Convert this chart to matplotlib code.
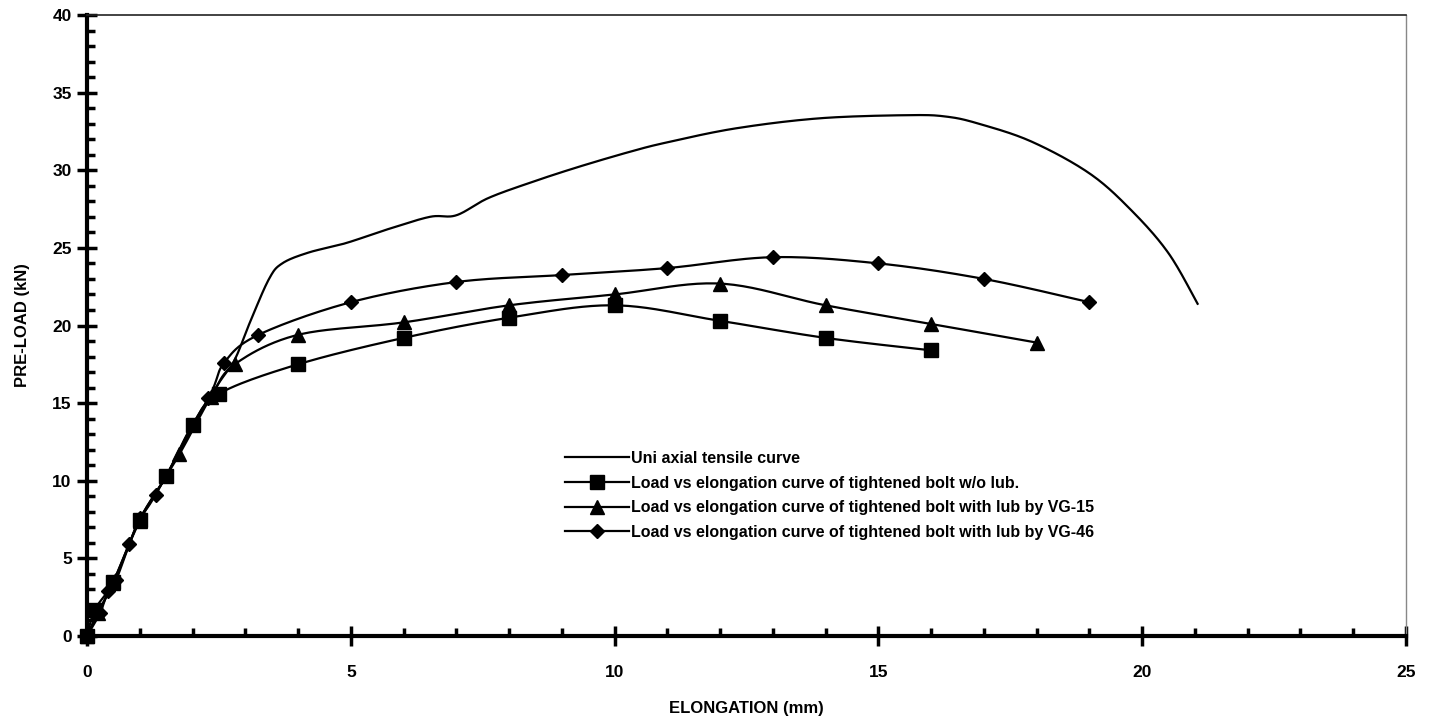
import numpy as np
import matplotlib
matplotlib.use("Agg")
import matplotlib.pyplot as plt
from matplotlib.ticker import MultipleLocator

plt.rcParams['font.family'] = ['Liberation Sans', 'DejaVu Sans']

# Uniaxial tensile test curve
uni_x = [0, 0.5, 1.0, 1.5, 2.0, 2.5, 2.8, 3.1, 3.45, 3.7, 4.2, 4.9, 5.7, 6.5,
         7.0, 7.6, 8.4, 9.3, 10.3, 11.0, 12.3, 13.9, 15.6, 16.3, 16.9, 17.9,
         19.0, 19.8, 20.5, 21.05]
uni_y = [0, 3.5, 7.5, 10.3, 13.6, 16.3, 17.8, 20.3, 23.0, 24.0, 24.7, 25.3,
         26.2, 27.0, 27.1, 28.2, 29.2, 30.2, 31.2, 31.8, 32.7, 33.35, 33.55,
         33.45, 33.0, 31.85, 29.8, 27.4, 24.65, 21.4]

# Tightened bolt without lubrication
dry_x = [0, 0.15, 0.5, 1.0, 1.5, 2.0, 2.5, 4, 6, 8, 10, 12, 14, 16]
dry_y = [0, 1.7, 3.5, 7.5, 10.3, 13.6, 15.6, 17.5, 19.2, 20.5, 21.3, 20.3,
         19.2, 18.4]

# Tightened bolt lubricated with VG-15
vg15_x = [0, 0.2, 0.5, 1.0, 1.75, 2.35, 2.8, 4, 6, 8, 10, 12, 14, 16, 18]
vg15_y = [0, 1.5, 3.4, 7.4, 11.7, 15.4, 17.5, 19.4, 20.2, 21.3, 22.0, 22.7,
          21.3, 20.1, 18.9]

# Tightened bolt lubricated with VG-46
vg46_x = [0, 0.25, 0.4, 0.55, 0.8, 1.0, 1.3, 2.3, 2.6, 3.25, 5, 7, 9, 11,
          13, 15, 17, 19]
vg46_y = [0, 1.5, 2.9, 3.6, 5.9, 7.6, 9.1, 15.3, 17.6, 19.4, 21.5, 22.8,
          23.25, 23.7, 24.4, 24.0, 23.0, 21.5]

labels = [
    "Uni axial tensile curve",
    "Load vs elongation curve of tightened bolt w/o lub.",
    "Load vs elongation curve of tightened bolt with lub by VG-15",
    "Load vs elongation curve of tightened bolt with lub by VG-46",
]


def smooth(x, y, n=24):
    """Spreadsheet-style smoothed line: cubic Bezier segments with 1/6 tangents."""
    p = np.column_stack([x, y]).astype(float)
    m = len(p)
    out = [p[0]]
    t = np.linspace(0, 1, n)[1:, None]
    for i in range(m - 1):
        p0 = p[i - 1] if i > 0 else p[i]
        p1, p2 = p[i], p[i + 1]
        p3 = p[i + 2] if i + 2 < m else p[i + 1]
        c1 = p1 + (p2 - p0) / 6.0
        c2 = p2 - (p3 - p1) / 6.0
        seg = ((1 - t) ** 3) * p1 + 3 * ((1 - t) ** 2) * t * c1 \
            + 3 * (1 - t) * t ** 2 * c2 + t ** 3 * p2
        out.extend(seg)
    out = np.array(out)
    return out[:, 0], out[:, 1]


fig = plt.figure(figsize=(14.30, 7.22), dpi=100)
ax = fig.add_axes([87 / 1430, 1 - 636 / 722, (1406 - 87) / 1430, (636 - 15) / 722])

lw = 1.6
sx, sy = smooth(uni_x, uni_y)
ax.plot(sx, sy, color='black', lw=lw, zorder=3)

series = [
    (dry_x, dry_y, 's', 10.5),
    (vg15_x, vg15_y, '^', 10.5),
    (vg46_x, vg46_y, 'D', 7.2),
]
for xs, ys, mk, ms in series:
    cx, cy = smooth(xs, ys)
    ax.plot(cx, cy, color='black', lw=lw, zorder=3)
    ax.plot(xs, ys, linestyle='none', marker=mk, ms=ms, color='black',
            zorder=4, clip_on=False)

# Legend proxies
handles = [plt.Line2D([], [], color='black', lw=lw)]
for _, _, mk, ms in series:
    handles.append(plt.Line2D([], [], color='black', lw=lw, marker=mk, ms=ms))
leg = ax.legend(handles, labels, loc='upper left',
                bbox_to_anchor=(565 / 1430, 1 - 451 / 722),
                bbox_transform=fig.transFigure,
                frameon=False, prop={'weight': 'bold', 'size': 11.5},
                handlelength=4.0, handletextpad=0.15, labelspacing=0.6,
                borderpad=0, borderaxespad=0)

ax.set_xlim(0, 25)
ax.set_ylim(0, 40)
ax.xaxis.set_major_locator(MultipleLocator(5))
ax.xaxis.set_minor_locator(MultipleLocator(1))
ax.yaxis.set_major_locator(MultipleLocator(5))
ax.yaxis.set_minor_locator(MultipleLocator(1))

ax.tick_params(which='major', direction='inout', length=14, width=2.5,
               labelsize=12.5, color='black')
ax.tick_params(which='minor', direction='in', length=6, width=2.5, color='black')
ax.tick_params(axis='x', which='major', pad=14)
ax.tick_params(axis='y', which='major', pad=4)
for lab in ax.get_xticklabels() + ax.get_yticklabels():
    lab.set_fontweight('bold')

ax.spines['left'].set_linewidth(3)
ax.spines['bottom'].set_linewidth(3)
ax.spines['top'].set_linewidth(1.2)
ax.spines['top'].set_color('#222222')
ax.spines['right'].set_linewidth(1.0)
ax.spines['right'].set_color('#888888')
ax.spines['right'].set_linestyle((0, (1, 1)))

ax.set_xlabel("ELONGATION (mm)", fontsize=12, fontweight='bold', labelpad=15)
ax.set_ylabel("PRE-LOAD (kN)", fontsize=12, fontweight='bold', labelpad=16)

fig.savefig("out.png", dpi=100)
